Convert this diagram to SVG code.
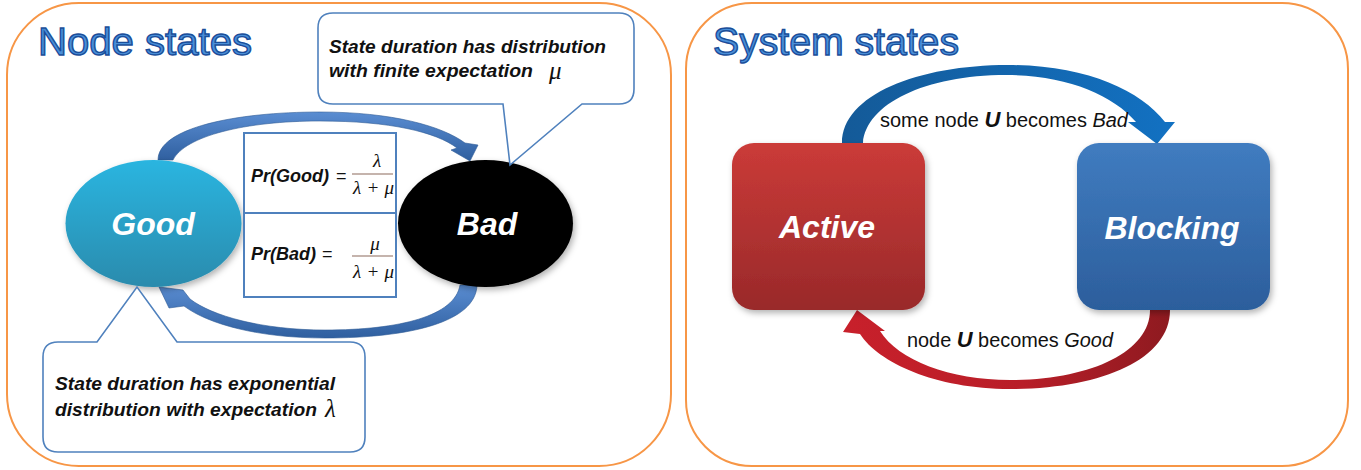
<svg xmlns="http://www.w3.org/2000/svg" width="1361" height="470" viewBox="0 0 1361 470">
<style>
.panel{fill:#fff;stroke:#F79646;stroke-width:2}
.title{font-family:"Liberation Sans",Arial,sans-serif;font-size:39px;fill:#4A8FD8;stroke:#1A4E9A;stroke-width:1.4}
.callout{fill:#fff;stroke:#4F81BD;stroke-width:1.6}
.ct{font-family:"Liberation Sans",Arial,sans-serif;font-size:19px;font-weight:bold;font-style:italic;fill:#111}
.math{font-family:"Liberation Serif","Times New Roman",serif;font-style:italic;fill:#111}
.ft{font-family:"Liberation Sans",Arial,sans-serif;font-size:18px;fill:#111}
.nl{font-family:"Liberation Sans",Arial,sans-serif;font-size:32px;font-weight:bold;font-style:italic;fill:#fff;text-anchor:middle}
.el{font-family:"Liberation Sans",Arial,sans-serif;font-size:20px;fill:#111}
.box{fill:#fff;stroke:#4F81BD;stroke-width:2}
</style>
<defs>
<linearGradient id="gGood" x1="0" y1="0" x2="0" y2="1"><stop offset="0" stop-color="#2BB5E0"/><stop offset="1" stop-color="#2A8BAD"/></linearGradient>
<linearGradient id="gActive" x1="0" y1="0" x2="0" y2="1"><stop offset="0" stop-color="#CB3B38"/><stop offset="1" stop-color="#99292A"/></linearGradient>
<linearGradient id="gBlock" x1="0" y1="0" x2="0" y2="1"><stop offset="0" stop-color="#407CC0"/><stop offset="1" stop-color="#2C5E9C"/></linearGradient>
<linearGradient id="gArrL" x1="0" y1="0" x2="0" y2="1"><stop offset="0" stop-color="#5A8DD2"/><stop offset="1" stop-color="#2F5F9F"/></linearGradient>
<linearGradient id="gBlue" x1="0" y1="0" x2="1" y2="0"><stop offset="0" stop-color="#145A98"/><stop offset="1" stop-color="#1271C2"/></linearGradient>
<linearGradient id="gRed" x1="0" y1="0" x2="1" y2="0"><stop offset="0" stop-color="#C8202B"/><stop offset="0.55" stop-color="#B81E28"/><stop offset="1" stop-color="#8E1A20"/></linearGradient>
<filter id="sh" x="-10%" y="-10%" width="130%" height="130%"><feDropShadow dx="2" dy="3" stdDeviation="3" flood-color="#000" flood-opacity="0.3"/></filter>
</defs>

<rect class="panel" x="7" y="3" width="664" height="463" rx="72"/>
<rect class="panel" x="686" y="3" width="662" height="463" rx="66"/>

<text class="title" x="38" y="55" textLength="214" lengthAdjust="spacingAndGlyphs">Node states</text>
<text class="title" x="713" y="55" textLength="246" lengthAdjust="spacingAndGlyphs">System states</text>

<g id="connectors">
<path fill="url(#gArrL)" stroke="#2D5A96" stroke-width="0.6" d="M158,160 C158,128 235,112 320,112 C392,112 442,126 465,143 L478,145 L470,161 L451,150 L457,148 C436,132 390,121 320,121 C245,121 185,136 173,160 Z"/>
<path fill="url(#gArrL)" stroke="#2D5A96" stroke-width="0.6" d="M477,285 C476,322 410,338 325,338 C258,338 208,324 184,306 L169,308 L159,287 L183,290 L190,299 C212,316 262,330 325,330 C400,330 455,316 460,285 Z"/>
<path fill="url(#gBlue)" d="M842,143 C842,95 918,65 1008,65 C1085,65 1140,90 1165,122 L1175,122 L1157,144 L1128,122 L1136,122 C1112,94 1065,75 1006,75 C925,75 866,104 863,143 Z"/>
<path fill="url(#gRed)" d="M1170,310 C1170,360 1100,389 1010,389 C935,389 878,362 860,334 L843,332 L857,310 L885,331 L880,331 C898,360 950,380 1010,380 C1090,380 1150,352 1150,310 Z"/>
<text class="el" x="880" y="127" textLength="248" lengthAdjust="spacingAndGlyphs">some node <tspan font-weight="bold" font-style="italic" font-size="22">U</tspan> becomes <tspan font-style="italic">Bad</tspan></text>
<text class="el" x="907" y="347" textLength="206" lengthAdjust="spacingAndGlyphs">node <tspan font-weight="bold" font-style="italic" font-size="22">U</tspan> becomes <tspan font-style="italic">Good</tspan></text>
</g>

<g id="good">
<ellipse cx="153.5" cy="223.5" rx="88" ry="63.5" fill="url(#gGood)" filter="url(#sh)"/>
<text class="nl" x="153" y="235">Good</text>
</g>

<g id="bad">
<ellipse cx="485.5" cy="223.5" rx="87.5" ry="63.5" fill="#000" filter="url(#sh)"/>
<text class="nl" x="487" y="235">Bad</text>
</g>

<g id="formula">
<rect class="box" x="244" y="133" width="152" height="164"/>
<line x1="244" y1="213" x2="396" y2="213" stroke="#4F81BD" stroke-width="2"/>
<text class="ft" x="251" y="182" font-weight="bold" font-style="italic">Pr(Good)</text>
<text class="ft" x="336" y="182">=</text>
<text class="math" x="377" y="167" font-size="19" text-anchor="middle">λ</text>
<line x1="352" y1="174" x2="393" y2="174" stroke="#8C6A5C" stroke-width="1.2"/>
<text class="math" x="353" y="194" font-size="19" textLength="41" lengthAdjust="spacing">λ+μ</text>
<text class="ft" x="251" y="260" font-weight="bold" font-style="italic">Pr(Bad)</text>
<text class="ft" x="322" y="260">=</text>
<text class="math" x="375" y="250" font-size="19" text-anchor="middle">μ</text>
<line x1="352" y1="256" x2="393" y2="256" stroke="#8C6A5C" stroke-width="1.2"/>
<text class="math" x="353" y="278" font-size="19" textLength="41" lengthAdjust="spacing">λ+μ</text>
</g>

<g id="callout-bad">
<path class="callout" d="M333,13 H619 Q634,13 634,28 V89 Q634,104 619,104 H582 L510,165 L503,104 H333 Q318,104 318,89 V28 Q318,13 333,13 Z"/>
<text class="ct" x="329" y="53" textLength="277" lengthAdjust="spacingAndGlyphs">State duration has distribution</text>
<text class="ct" x="329" y="77" textLength="204" lengthAdjust="spacingAndGlyphs">with finite expectation</text>
<text class="math" x="549" y="79" font-size="25">μ</text>
</g>

<g id="callout-good">
<path class="callout" d="M58,342 H97 L137,287 L177,342 H350 Q365,342 365,357 V437 Q365,452 350,452 H58 Q43,452 43,437 V357 Q43,342 58,342 Z"/>
<text class="ct" x="55" y="390" textLength="280" lengthAdjust="spacingAndGlyphs">State duration has exponential</text>
<text class="ct" x="55" y="416" textLength="262" lengthAdjust="spacingAndGlyphs">distribution with expectation</text>
<text class="math" x="325" y="417" font-size="25">λ</text>
</g>

<g id="active">
<rect x="732" y="143" width="193" height="167" rx="22" fill="url(#gActive)" filter="url(#sh)"/>
<text class="nl" x="827" y="238" font-size="31">Active</text>
</g>

<g id="blocking">
<rect x="1077" y="143" width="193" height="167" rx="22" fill="url(#gBlock)" filter="url(#sh)"/>
<text class="nl" x="1172" y="239" font-size="31">Blocking</text>
</g>
</svg>
